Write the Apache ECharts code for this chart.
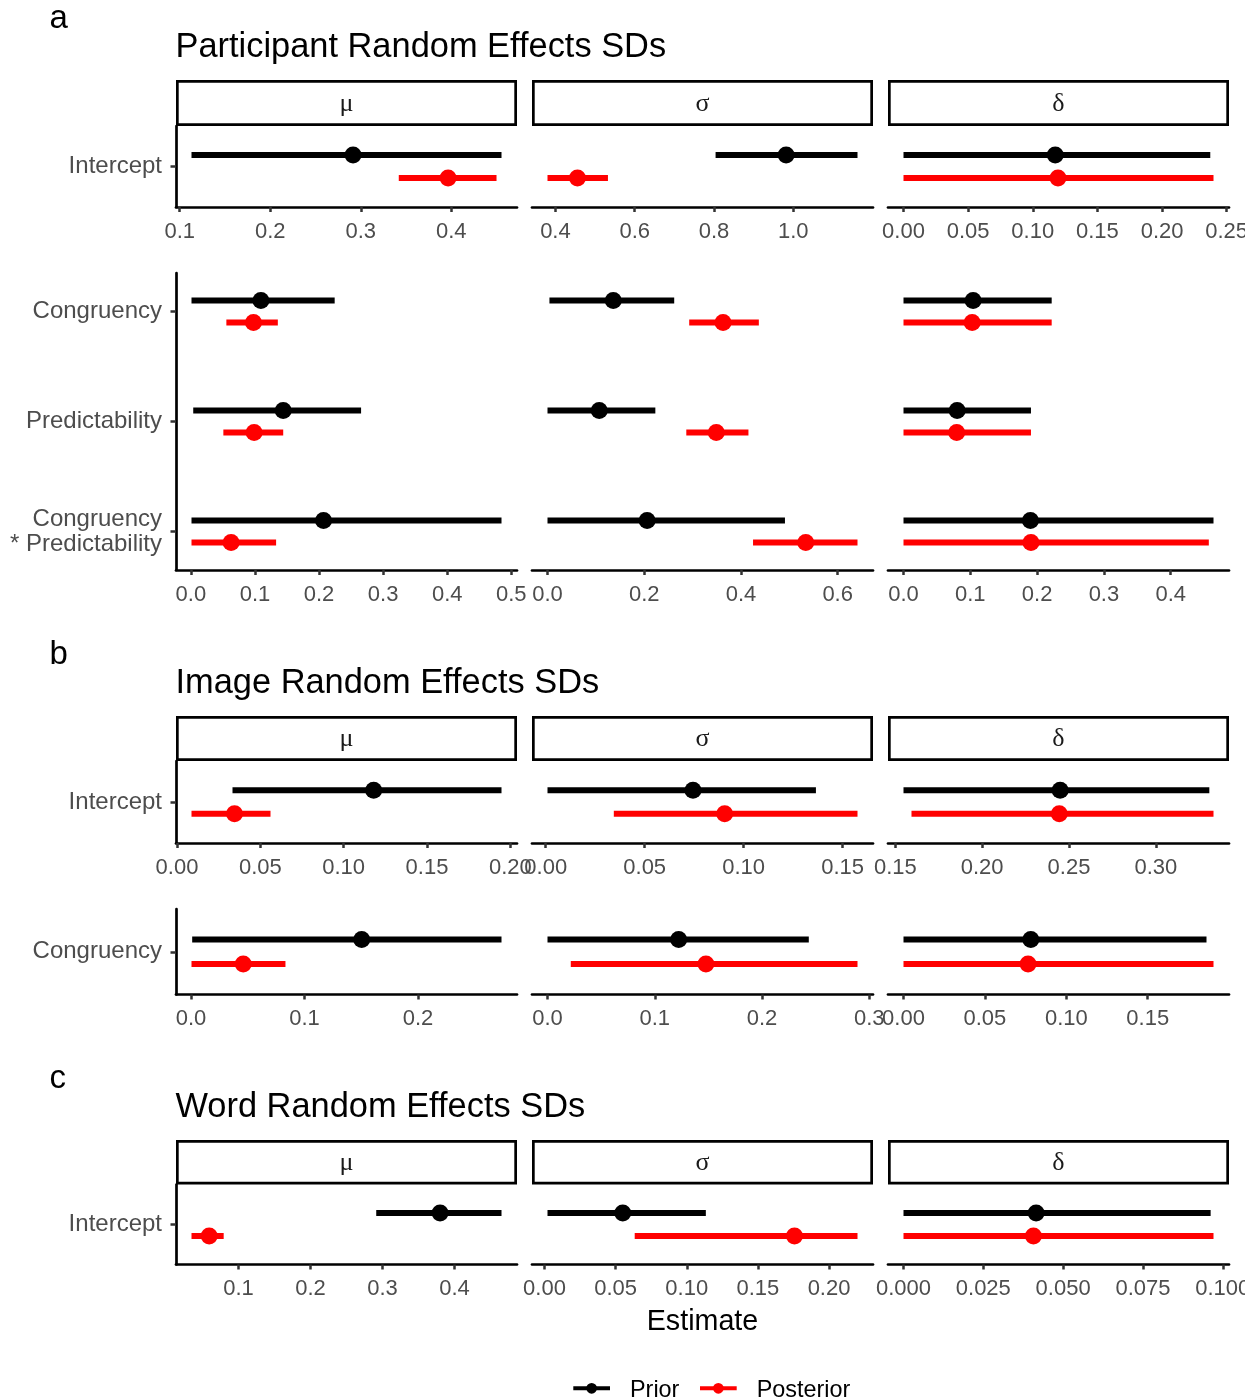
<!DOCTYPE html>
<html>
<head>
<meta charset="utf-8">
<title>Random Effects SDs: Prior vs Posterior</title>
<script src="https://cdn.jsdelivr.net/npm/echarts@6/dist/echarts.min.js"></script>
<style>
  html, body { margin: 0; padding: 0; background: #ffffff; }
  #chart { width: 1245px; height: 1399px; }
</style>
</head>
<body>
<div id="chart"></div>
<script>
// ---- data: each interval is [lower, estimate, upper]; one list per parameter (μ, σ, δ) ----
const params = ['μ', 'σ', 'δ'];

// Participant random effects, intercept
const partIntRows = ['Intercept'];
const partIntPrior = [
  [[0.113, 0.2915, 0.4555]],
  [[0.804, 0.982, 1.162]],
  [[0.000, 0.1174, 0.2373]]
];
const partIntPost = [
  [[0.342, 0.3965, 0.450]],
  [[0.380, 0.4556, 0.5325]],
  [[0.000, 0.1195, 0.2398]]
];
const partIntTicks = [[0.1, 0.2, 0.3, 0.4], [0.4, 0.6, 0.8, 1.0], [0, 0.05, 0.1, 0.15, 0.2, 0.25]];

// Participant random effects, slopes
const partSlopeRows = ['Congruency', 'Predictability', 'Congruency\n* Predictability'];
const partSlopePrior = [
  [[0.001, 0.1093, 0.2244], [0.0037, 0.1441, 0.2656], [0.001, 0.207, 0.4847]],
  [[0.004, 0.136, 0.262], [0.000, 0.107, 0.223], [0.000, 0.206, 0.491]],
  [[0.000, 0.1042, 0.2218], [0.000, 0.0803, 0.1908], [0.000, 0.190, 0.464]]
];
const partSlopePost = [
  [[0.0554, 0.0977, 0.1357], [0.0507, 0.0987, 0.1441], [0.001, 0.0628, 0.133]],
  [[0.293, 0.363, 0.437], [0.287, 0.349, 0.4155], [0.425, 0.534, 0.641]],
  [[0.000, 0.1028, 0.2218], [0.000, 0.0796, 0.1908], [0.000, 0.1908, 0.457]]
];
const partSlopeTicks = [[0, 0.1, 0.2, 0.3, 0.4, 0.5], [0, 0.2, 0.4, 0.6], [0, 0.1, 0.2, 0.3, 0.4]];

// Image random effects, intercept
const imgIntRows = ['Intercept'];
const imgIntPrior = [
  [[0.0333, 0.118, 0.1947]],
  [[0.0009, 0.0744, 0.1365]],
  [[0.1547, 0.2449, 0.3308]]
];
const imgIntPost = [
  [[0.0087, 0.0345, 0.0561]],
  [[0.0344, 0.0904, 0.1575]],
  [[0.1593, 0.2444, 0.3332]]
];
const imgIntTicks = [[0, 0.05, 0.1, 0.15, 0.2], [0, 0.05, 0.1, 0.15], [0.15, 0.2, 0.25, 0.3]];

// Image random effects, congruency slope
const imgCongRows = ['Congruency'];
const imgCongPrior = [
  [[0.001, 0.1504, 0.2736]],
  [[0.000, 0.1223, 0.2436]],
  [[0.000, 0.0782, 0.1861]]
];
const imgCongPost = [
  [[0.0004, 0.046, 0.0832]],
  [[0.0217, 0.1477, 0.289]],
  [[0.000, 0.0765, 0.1904]]
];
const imgCongTicks = [[0, 0.1, 0.2], [0, 0.1, 0.2, 0.3], [0, 0.05, 0.1, 0.15]];

// Word random effects, intercept
const wordIntRows = ['Intercept'];
const wordIntPrior = [
  [[0.2913, 0.380, 0.4653]],
  [[0.0021, 0.055, 0.1134]],
  [[0.000, 0.04155, 0.0962]]
];
const wordIntPost = [
  [[0.0347, 0.0593, 0.0794]],
  [[0.0634, 0.1757, 0.220]],
  [[0.000, 0.0407, 0.0971]]
];
const wordIntTicks = [[0.1, 0.2, 0.3, 0.4], [0, 0.05, 0.1, 0.15, 0.2], [0, 0.025, 0.05, 0.075, 0.1]];

const groupNames = ['Prior', 'Posterior'];
const groupColors = ['#000000', '#FF0000'];

// ---- layout ----
const FONT = "'Liberation Sans', Arial, Helvetica, sans-serif";
const SERIF = "'Liberation Serif', 'DejaVu Serif', serif";
const COL_LEFT = [176, 532, 888];
const COL_W = 341;
const DODGE = 0.1;      // vertical offset of prior / posterior around each row
const ROW_PAD = 0.35;   // space above first and below last row
const EXPAND = 0.05;    // x range padding, fraction of the data span

const blocks = [
  { rows: partIntRows, prior: partIntPrior, post: partIntPost, ticks: partIntTicks,
    top: 126, height: 81, strip: { top: 80, height: 46 } },
  { rows: partSlopeRows, prior: partSlopePrior, post: partSlopePost, ticks: partSlopeTicks,
    top: 273, height: 297 },
  { rows: imgIntRows, prior: imgIntPrior, post: imgIntPost, ticks: imgIntTicks,
    top: 761, height: 82, strip: { top: 716, height: 45 } },
  { rows: imgCongRows, prior: imgCongPrior, post: imgCongPost, ticks: imgCongTicks,
    top: 909, height: 85.5 },
  { rows: wordIntRows, prior: wordIntPrior, post: wordIntPost, ticks: wordIntTicks,
    top: 1184.5, height: 80, strip: { top: 1140, height: 44.5 } }
];

const headers = [
  { tag: 'a', title: 'Participant Random Effects SDs', baseline: 54.3 },
  { tag: 'b', title: 'Image Random Effects SDs', baseline: 690.3 },
  { tag: 'c', title: 'Word Random Effects SDs', baseline: 1114.3 }
];

function decimalsOf(ticks) {
  return Math.max(...ticks.map(t => {
    const s = String(t);
    const i = s.indexOf('.');
    return i < 0 ? 0 : s.length - i - 1;
  }));
}

function extentOf(prior, post) {
  let lo = Infinity, hi = -Infinity;
  prior.concat(post).forEach(r => { lo = Math.min(lo, r[0]); hi = Math.max(hi, r[2]); });
  const pad = (hi - lo) * EXPAND;
  return [lo - pad, hi + pad];
}

// interval line with a point at the estimate
function renderRange(params, api) {
  const y = api.value(3);
  const a = api.coord([api.value(0), y]);
  const b = api.coord([api.value(2), y]);
  const m = api.coord([api.value(1), y]);
  const color = api.visual('color');
  return {
    type: 'group',
    children: [
      { type: 'line', shape: { x1: a[0], y1: a[1], x2: b[0], y2: b[1] },
        style: { stroke: color, lineWidth: 6, lineCap: 'butt' } },
      { type: 'circle', shape: { cx: m[0], cy: m[1], r: 8.5 }, style: { fill: color } }
    ]
  };
}

function textEl(x, y, text, font, align) {
  return {
    type: 'text', x: x, y: y, silent: true,
    style: { text: text, font: font, fill: '#000000',
             align: align, verticalAlign: 'middle', textAlign: align, textVerticalAlign: 'middle' }
  };
}

const grids = [], xAxes = [], yAxes = [], series = [], graphics = [];

blocks.forEach((blk, bi) => {
  params.forEach((p, pi) => {
    const gi = bi * 3 + pi;
    const ticks = blk.ticks[pi];
    const dec = decimalsOf(ticks);
    const [mn, mx] = extentOf(blk.prior[pi], blk.post[pi]);
    const n = blk.rows.length;
    const rowPos = blk.rows.map((_, i) => i + 1);

    grids.push({ left: COL_LEFT[pi], top: blk.top, width: COL_W, height: blk.height,
                 containLabel: false, outerBoundsMode: 'none' });

    xAxes.push({
      type: 'value', gridIndex: gi, min: mn, max: mx,
      axisLine: { show: true, onZero: false, lineStyle: { color: '#000000', width: 2.7 } },
      axisTick: { show: true, customValues: ticks, length: 5, lineStyle: { color: '#333333', width: 2.5 } },
      axisLabel: { show: true, customValues: ticks, formatter: v => Number(v).toFixed(dec),
                   color: '#4D4D4D', fontSize: 22, fontFamily: FONT, margin: 13.5 },
      splitLine: { show: false }
    });

    yAxes.push({
      type: 'value', gridIndex: gi, inverse: true, min: 1 - ROW_PAD, max: n + ROW_PAD,
      show: pi === 0,
      axisLine: { show: true, onZero: false, lineStyle: { color: '#000000', width: 2.7 } },
      axisTick: { show: true, customValues: rowPos, length: 5.5, lineStyle: { color: '#333333', width: 2.5 } },
      axisLabel: { show: true, customValues: rowPos, formatter: v => blk.rows[Math.round(v) - 1],
                   color: '#4D4D4D', fontSize: 24, fontFamily: FONT, margin: 14, lineHeight: 25 },
      splitLine: { show: false }
    });

    [blk.prior[pi], blk.post[pi]].forEach((vals, k) => {
      series.push({
        type: 'custom', name: groupNames[k], xAxisIndex: gi, yAxisIndex: gi,
        renderItem: renderRange, silent: true, animation: false,
        itemStyle: { color: groupColors[k] },
        data: vals.map((r, i) => [r[0], r[1], r[2], i + 1 + (k === 0 ? -DODGE : DODGE)])
      });
    });

    if (blk.strip) {
      graphics.push({
        type: 'rect', silent: true,
        shape: { x: COL_LEFT[pi] + 1.35, y: blk.strip.top + 1.35, width: COL_W - 2.7, height: blk.strip.height - 2.7 },
        style: { fill: '#ffffff', stroke: '#000000', lineWidth: 2.7 }
      });
      const st = textEl(COL_LEFT[pi] + COL_W / 2, blk.strip.top + blk.strip.height / 2 + 1,
                        p, '26px ' + SERIF, 'center');
      st.style.fill = '#1A1A1A';
      graphics.push(st);
    }
  });
});

headers.forEach(h => {
  graphics.push(textEl(49.5, h.baseline - 26 - 0.3465 * 33 + 2.5, h.tag, '33px ' + FONT, 'left'));
  graphics.push(textEl(175.5, h.baseline - 0.358 * 34.4 + 5.5, h.title, '34.4px ' + FONT, 'left'));
});

graphics.push(textEl(702.5, 1322.5, 'Estimate', '28.7px ' + FONT, 'center'));

// legend: line with a point, then the group name
const legendKeyX = [573.3, 700];
const legendTextX = [630, 756.7];
const legendY = 1388.3;
groupNames.forEach((name, k) => {
  graphics.push({
    type: 'line', silent: true,
    shape: { x1: legendKeyX[k], y1: legendY, x2: legendKeyX[k] + 36.7, y2: legendY },
    style: { stroke: groupColors[k], lineWidth: 4, lineCap: 'butt' }
  });
  graphics.push({
    type: 'circle', silent: true,
    shape: { cx: legendKeyX[k] + 18.35, cy: legendY, r: 5.4 },
    style: { fill: groupColors[k] }
  });
  graphics.push(textEl(legendTextX[k], legendY + 2.5, name, '23.4px ' + FONT, 'left'));
});

const chart = echarts.init(document.getElementById('chart'), null, { renderer: 'canvas' });
chart.setOption({
  animation: false,
  backgroundColor: '#ffffff',
  grid: grids,
  xAxis: xAxes,
  yAxis: yAxes,
  series: series,
  graphic: { elements: graphics }
});
</script>
</body>
</html>
